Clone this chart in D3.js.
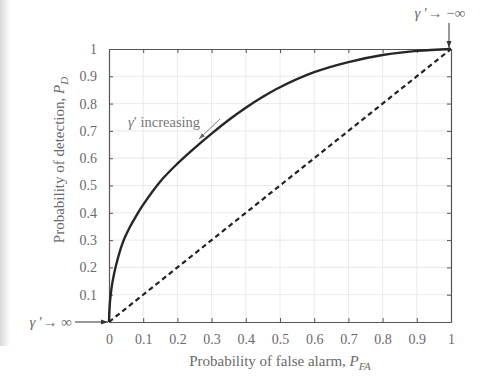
<!DOCTYPE html>
<html>
<head>
<meta charset="utf-8">
<script src="https://cdn.jsdelivr.net/npm/d3@7"></script>
<style>
  body { margin: 0; background: #fff; }
  svg { display: block; }
</style>
</head>
<body>
<svg id="chart" width="489" height="376"></svg>
<script>
// ROC curve
const pfaValues = [0, 0.002, 0.005, 0.01, 0.02, 0.04, 0.06, 0.08, 0.1, 0.15, 0.2, 0.25, 0.3, 0.35, 0.4, 0.45, 0.5, 0.6, 0.7, 0.8, 0.9, 1];
const pdValues  = [0, 0.06, 0.1, 0.145, 0.205, 0.29, 0.345, 0.39, 0.43, 0.515, 0.58, 0.637, 0.69, 0.74, 0.785, 0.825, 0.86, 0.915, 0.952, 0.978, 0.993, 1];
// chance line
const chanceX = [0, 1];
const chanceY = [0, 1];
const tickValues = [0, 0.1, 0.2, 0.3, 0.4, 0.5, 0.6, 0.7, 0.8, 0.9, 1];

const svg = d3.select("#chart");
const font = "'Liberation Serif', 'DejaVu Serif', serif";
const textColor = "#6a6a6a";

const margin = {left: 109, top: 49, right: 38, bottom: 54};
const width = 489 - margin.left - margin.right,
      height = 376 - margin.top - margin.bottom;

const xScale = d3.scaleLinear().domain([0, 1]).range([0, width]);
const yScale = d3.scaleLinear().domain([0, 1]).range([height, 0]);

// faint shadow strip on the left edge of the scan
const defs = svg.append("defs");
const grad = defs.append("linearGradient").attr("id", "shade");
grad.append("stop").attr("offset", "0%").attr("stop-color", "#d8d8d8");
grad.append("stop").attr("offset", "100%").attr("stop-color", "#ffffff");
svg.append("rect").attr("x", 0).attr("y", 0).attr("width", 10).attr("height", 346)
    .attr("fill", "url(#shade)");

defs.append("marker").attr("id", "arrowDark")
    .attr("viewBox", "0 0 10 10").attr("refX", 10).attr("refY", 5)
    .attr("markerWidth", 7).attr("markerHeight", 7).attr("orient", "auto")
    .append("path").attr("d", "M0,1.5 L10,5 L0,8.5 Z").attr("fill", "#333");
defs.append("marker").attr("id", "arrowGray")
    .attr("viewBox", "0 0 10 10").attr("refX", 10).attr("refY", 5)
    .attr("markerWidth", 7).attr("markerHeight", 7).attr("orient", "auto")
    .append("path").attr("d", "M0,1.5 L10,5 L0,8.5 Z").attr("fill", "#666");

const g = svg.append("g")
    .attr("transform", "translate(" + margin.left + "," + margin.top + ")");

// grid
g.append("g").selectAll("line.vg")
    .data(tickValues.slice(1, -1)).enter().append("line")
    .attr("x1", d => xScale(d)).attr("x2", d => xScale(d))
    .attr("y1", 0).attr("y2", height)
    .attr("stroke", "#e4e4e4").attr("stroke-width", 0.8);
g.append("g").selectAll("line.hg")
    .data(tickValues.slice(1, -1)).enter().append("line")
    .attr("x1", 0).attr("x2", width)
    .attr("y1", d => yScale(d)).attr("y2", d => yScale(d))
    .attr("stroke", "#e4e4e4").attr("stroke-width", 0.8);

// axes with inward ticks
const styleAxis = sel => {
    sel.select(".domain").attr("stroke", "#555").attr("stroke-width", 1.2);
    sel.selectAll(".tick line").attr("stroke", "#555");
    sel.selectAll("text").attr("fill", textColor)
        .style("font-family", font).style("font-size", "14px");
};
g.append("g").attr("transform", "translate(0," + height + ")")
    .call(d3.axisBottom(xScale).tickValues(tickValues).tickSize(-4).tickSizeOuter(0)
        .tickPadding(12).tickFormat(d3.format("~g")))
    .call(styleAxis);
g.append("g")
    .call(d3.axisLeft(yScale).tickValues(tickValues.slice(1)).tickSize(-4).tickSizeOuter(0)
        .tickPadding(12).tickFormat(d3.format("~g")))
    .call(styleAxis);
g.append("g")
    .call(d3.axisTop(xScale).tickValues(tickValues).tickSize(-4).tickSizeOuter(0).tickFormat(""))
    .call(styleAxis);
g.append("g").attr("transform", "translate(" + width + ",0)")
    .call(d3.axisRight(yScale).tickValues(tickValues).tickSize(-4).tickSizeOuter(0).tickFormat(""))
    .call(styleAxis);

// chance line
const chance = chanceX.map((x, i) => [x, chanceY[i]]);
g.append("path").datum(chance)
    .attr("d", d3.line().x(d => xScale(d[0])).y(d => yScale(d[1])))
    .attr("fill", "none").attr("stroke", "#222").attr("stroke-width", 2.2)
    .attr("stroke-dasharray", "5,3.5");

// ROC curve
const roc = pfaValues.map((x, i) => [x, pdValues[i]]);
g.append("path").datum(roc)
    .attr("d", d3.line().x(d => xScale(d[0])).y(d => yScale(d[1])).curve(d3.curveCatmullRom.alpha(0.5)))
    .attr("fill", "none").attr("stroke", "#262626").attr("stroke-width", 2.4);

// annotations
const gammaTop = svg.append("text")
    .attr("x", 440).attr("y", 18).attr("text-anchor", "middle")
    .attr("fill", textColor).style("font-family", font).style("font-size", "15px");
gammaTop.append("tspan").style("font-style", "italic").text("γ");
gammaTop.append("tspan").text(" ′→ −∞");
svg.append("line")
    .attr("x1", margin.left + xScale(1) - 2).attr("y1", 23)
    .attr("x2", margin.left + xScale(1) - 2).attr("y2", margin.top - 1)
    .attr("stroke", "#333").attr("stroke-width", 1).attr("marker-end", "url(#arrowDark)");

const gammaLeft = svg.append("text")
    .attr("x", 72).attr("y", margin.top + yScale(0) + 5).attr("text-anchor", "end")
    .attr("fill", textColor).style("font-family", font).style("font-size", "15px");
gammaLeft.append("tspan").style("font-style", "italic").text("γ");
gammaLeft.append("tspan").text(" ′→ ∞");
svg.append("line")
    .attr("x1", 75).attr("y1", margin.top + yScale(0))
    .attr("x2", margin.left - 1).attr("y2", margin.top + yScale(0))
    .attr("stroke", "#333").attr("stroke-width", 1).attr("marker-end", "url(#arrowDark)");

const inc = svg.append("text")
    .attr("x", 128).attr("y", 127)
    .attr("fill", "#777").style("font-family", font).style("font-size", "14.5px");
inc.append("tspan").style("font-style", "italic").text("γ");
inc.append("tspan").text("′ increasing");
svg.append("line")
    .attr("x1", 220).attr("y1", 119).attr("x2", 199).attr("y2", 139)
    .attr("stroke", "#666").attr("stroke-width", 0.9).attr("marker-end", "url(#arrowGray)");

// axis titles
const xTitle = svg.append("text")
    .attr("x", 280).attr("y", 366).attr("text-anchor", "middle")
    .attr("fill", textColor).style("font-family", font).style("font-size", "15px");
xTitle.append("tspan").text("Probability of false alarm, ");
xTitle.append("tspan").style("font-style", "italic").text("P");
xTitle.append("tspan").style("font-style", "italic").style("font-size", "11px").attr("dy", 4).text("FA");

const yTitle = svg.append("text")
    .attr("text-anchor", "middle")
    .attr("transform", "translate(64,160)rotate(-90)")
    .attr("fill", textColor).style("font-family", font).style("font-size", "15px");
yTitle.append("tspan").text("Probability of detection, ");
yTitle.append("tspan").style("font-style", "italic").text("P");
yTitle.append("tspan").style("font-style", "italic").style("font-size", "11px").attr("dy", 4).text("D");
</script>
</body>
</html>
